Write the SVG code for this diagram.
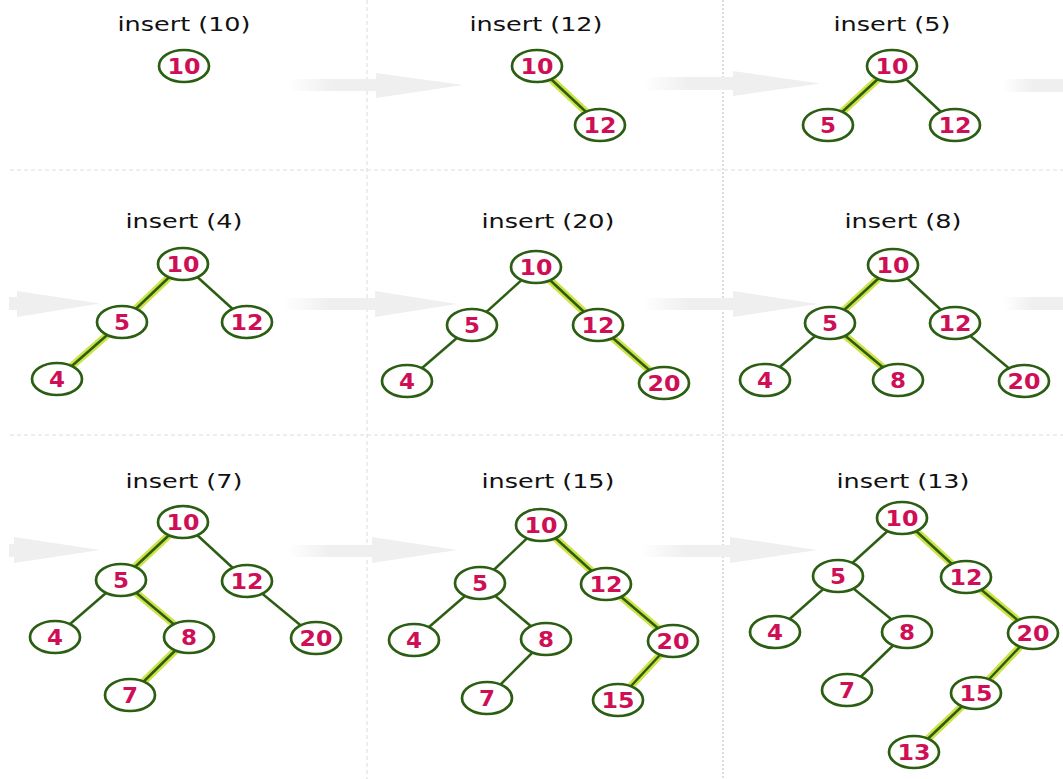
<svg xmlns="http://www.w3.org/2000/svg" width="1063" height="779" viewBox="0 0 1063 779">
<style>
.title{font-family:"DejaVu Sans","Liberation Sans",sans-serif;font-size:20px;fill:#111;text-anchor:middle}
.node ellipse{fill:#fff;stroke:#2b5e12;stroke-width:2.7}
.node text{font-family:"DejaVu Sans","Liberation Sans",sans-serif;font-weight:bold;font-size:21.5px;fill:#cf0f55;text-anchor:middle}
.e{stroke:#2b5e12;stroke-width:2.5;fill:none}
.glow{stroke:#cfe247;stroke-width:7.5;stroke-linecap:round;fill:none}
.div1{stroke:#dcdcdc;stroke-width:1;stroke-dasharray:4 3}
.div2{stroke:#d2d2d2;stroke-width:1.5;stroke-dasharray:2 2}
.head{fill:#efefef}
</style>
<defs>
<linearGradient id="fade" x1="0" y1="0" x2="1" y2="0">
<stop offset="0" stop-color="#efefef" stop-opacity="0"/>
<stop offset="0.5" stop-color="#efefef" stop-opacity="1"/>
<stop offset="1" stop-color="#efefef" stop-opacity="1"/>
</linearGradient>
</defs>
<rect width="1063" height="779" fill="#fff"/>
<g id="dividers">
<line class="div1" x1="10" y1="170" x2="1063" y2="170"/>
<line class="div1" x1="10" y1="435" x2="1063" y2="435"/>
<line class="div1" x1="367" y1="0" x2="367" y2="779"/>
<line class="div2" x1="723" y1="0" x2="723" y2="779"/>
</g>
<g id="arrows">
<rect x="287" y="79" width="90" height="12" fill="url(#fade)"/><polygon class="head" points="376,73 463,85 376,98"/>
<rect x="643" y="77" width="91" height="13" fill="url(#fade)"/><polygon class="head" points="733,71 820,83.5 733,96"/>
<rect x="1003" y="79" width="60" height="13" fill="url(#fade)"/>
<rect x="9" y="297" width="9" height="13" class="head"/><polygon class="head" points="17,291 100,303.5 17,317"/>
<rect x="283" y="298" width="93" height="12" fill="url(#fade)"/><polygon class="head" points="375,291 457,304 375,317"/>
<rect x="642" y="298" width="92" height="12" fill="url(#fade)"/><polygon class="head" points="733,291 818,304 733,317"/>
<rect x="1003" y="297" width="60" height="13" fill="url(#fade)"/>
<rect x="9" y="544" width="6" height="13" class="head"/><polygon class="head" points="14,537 100,550 14,563"/>
<rect x="287" y="545" width="86" height="12" fill="url(#fade)"/><polygon class="head" points="372,537 457,550 372,563"/>
<rect x="640" y="545" width="91" height="12" fill="url(#fade)"/><polygon class="head" points="730,537 817,550 730,563"/>
</g>
<g id="titles">
<text class="title" x="184" y="31" textLength="133" lengthAdjust="spacingAndGlyphs">insert (10)</text>
<text class="title" x="536" y="31" textLength="133" lengthAdjust="spacingAndGlyphs">insert (12)</text>
<text class="title" x="892" y="31" textLength="117" lengthAdjust="spacingAndGlyphs">insert (5)</text>
<text class="title" x="184" y="228" textLength="117" lengthAdjust="spacingAndGlyphs">insert (4)</text>
<text class="title" x="548" y="228" textLength="133" lengthAdjust="spacingAndGlyphs">insert (20)</text>
<text class="title" x="903" y="228" textLength="117" lengthAdjust="spacingAndGlyphs">insert (8)</text>
<text class="title" x="184" y="488" textLength="117" lengthAdjust="spacingAndGlyphs">insert (7)</text>
<text class="title" x="548" y="488" textLength="133" lengthAdjust="spacingAndGlyphs">insert (15)</text>
<text class="title" x="903" y="488" textLength="133" lengthAdjust="spacingAndGlyphs">insert (13)</text>
</g>
<g id="connectors">
<line class="glow" x1="537" y1="66" x2="600" y2="125"/><line class="e" x1="537" y1="66" x2="600" y2="125"/>
<line class="glow" x1="892" y1="66" x2="828" y2="125"/><line class="e" x1="892" y1="66" x2="828" y2="125"/>
<line class="e" x1="892" y1="66" x2="955" y2="125"/>
<line class="glow" x1="183" y1="264" x2="122" y2="322"/><line class="e" x1="183" y1="264" x2="122" y2="322"/>
<line class="glow" x1="122" y1="322" x2="57" y2="379"/><line class="e" x1="122" y1="322" x2="57" y2="379"/>
<line class="e" x1="183" y1="264" x2="247" y2="322"/>
<line class="glow" x1="536" y1="267" x2="598" y2="325"/><line class="e" x1="536" y1="267" x2="598" y2="325"/>
<line class="glow" x1="598" y1="325" x2="664" y2="383"/><line class="e" x1="598" y1="325" x2="664" y2="383"/>
<line class="e" x1="536" y1="267" x2="472" y2="325"/>
<line class="e" x1="472" y1="325" x2="407" y2="381"/>
<line class="glow" x1="893" y1="265" x2="830" y2="323"/><line class="e" x1="893" y1="265" x2="830" y2="323"/>
<line class="glow" x1="830" y1="323" x2="898" y2="380"/><line class="e" x1="830" y1="323" x2="898" y2="380"/>
<line class="e" x1="893" y1="265" x2="955" y2="323"/>
<line class="e" x1="830" y1="323" x2="765" y2="380"/>
<line class="e" x1="955" y1="323" x2="1024" y2="381"/>
<line class="glow" x1="183" y1="522" x2="121" y2="580"/><line class="e" x1="183" y1="522" x2="121" y2="580"/>
<line class="glow" x1="121" y1="580" x2="189" y2="637"/><line class="e" x1="121" y1="580" x2="189" y2="637"/>
<line class="glow" x1="189" y1="637" x2="130" y2="695"/><line class="e" x1="189" y1="637" x2="130" y2="695"/>
<line class="e" x1="183" y1="522" x2="247" y2="581"/>
<line class="e" x1="121" y1="580" x2="55" y2="637"/>
<line class="e" x1="247" y1="581" x2="316" y2="638"/>
<line class="glow" x1="541" y1="525" x2="606" y2="584"/><line class="e" x1="541" y1="525" x2="606" y2="584"/>
<line class="glow" x1="606" y1="584" x2="673" y2="641"/><line class="e" x1="606" y1="584" x2="673" y2="641"/>
<line class="glow" x1="673" y1="641" x2="618" y2="700"/><line class="e" x1="673" y1="641" x2="618" y2="700"/>
<line class="e" x1="541" y1="525" x2="480" y2="583"/>
<line class="e" x1="480" y1="583" x2="414" y2="640"/>
<line class="e" x1="480" y1="583" x2="546" y2="639"/>
<line class="e" x1="546" y1="639" x2="487" y2="698"/>
<line class="glow" x1="902" y1="518" x2="966" y2="577"/><line class="e" x1="902" y1="518" x2="966" y2="577"/>
<line class="glow" x1="966" y1="577" x2="1033" y2="633"/><line class="e" x1="966" y1="577" x2="1033" y2="633"/>
<line class="glow" x1="1033" y1="633" x2="976" y2="693"/><line class="e" x1="1033" y1="633" x2="976" y2="693"/>
<line class="glow" x1="976" y1="693" x2="914" y2="752"/><line class="e" x1="976" y1="693" x2="914" y2="752"/>
<line class="e" x1="902" y1="518" x2="838" y2="576"/>
<line class="e" x1="838" y1="576" x2="775" y2="632"/>
<line class="e" x1="838" y1="576" x2="907" y2="632"/>
<line class="e" x1="907" y1="632" x2="847" y2="690"/>
</g>
<g id="p1-10" class="node"><ellipse cx="184" cy="66" rx="25" ry="16"/><text x="184" y="74" textLength="33" lengthAdjust="spacingAndGlyphs">10</text></g>
<g id="p2-10" class="node"><ellipse cx="537" cy="66" rx="25" ry="16"/><text x="537" y="74" textLength="33" lengthAdjust="spacingAndGlyphs">10</text></g>
<g id="p2-12" class="node"><ellipse cx="600" cy="125" rx="25" ry="16"/><text x="600" y="133" textLength="33" lengthAdjust="spacingAndGlyphs">12</text></g>
<g id="p3-10" class="node"><ellipse cx="892" cy="66" rx="25" ry="16"/><text x="892" y="74" textLength="33" lengthAdjust="spacingAndGlyphs">10</text></g>
<g id="p3-5" class="node"><ellipse cx="828" cy="125" rx="25" ry="16"/><text x="828" y="133" textLength="16" lengthAdjust="spacingAndGlyphs">5</text></g>
<g id="p3-12" class="node"><ellipse cx="955" cy="125" rx="25" ry="16"/><text x="955" y="133" textLength="33" lengthAdjust="spacingAndGlyphs">12</text></g>
<g id="p4-10" class="node"><ellipse cx="183" cy="264" rx="25" ry="16"/><text x="183" y="272" textLength="33" lengthAdjust="spacingAndGlyphs">10</text></g>
<g id="p4-5" class="node"><ellipse cx="122" cy="322" rx="25" ry="16"/><text x="122" y="330" textLength="16" lengthAdjust="spacingAndGlyphs">5</text></g>
<g id="p4-12" class="node"><ellipse cx="247" cy="322" rx="25" ry="16"/><text x="247" y="330" textLength="33" lengthAdjust="spacingAndGlyphs">12</text></g>
<g id="p4-4" class="node"><ellipse cx="57" cy="379" rx="25" ry="16"/><text x="57" y="387" textLength="16" lengthAdjust="spacingAndGlyphs">4</text></g>
<g id="p5-10" class="node"><ellipse cx="536" cy="267" rx="25" ry="16"/><text x="536" y="275" textLength="33" lengthAdjust="spacingAndGlyphs">10</text></g>
<g id="p5-5" class="node"><ellipse cx="472" cy="325" rx="25" ry="16"/><text x="472" y="333" textLength="16" lengthAdjust="spacingAndGlyphs">5</text></g>
<g id="p5-12" class="node"><ellipse cx="598" cy="325" rx="25" ry="16"/><text x="598" y="333" textLength="33" lengthAdjust="spacingAndGlyphs">12</text></g>
<g id="p5-4" class="node"><ellipse cx="407" cy="381" rx="25" ry="16"/><text x="407" y="389" textLength="16" lengthAdjust="spacingAndGlyphs">4</text></g>
<g id="p5-20" class="node"><ellipse cx="664" cy="383" rx="25" ry="16"/><text x="664" y="391" textLength="33" lengthAdjust="spacingAndGlyphs">20</text></g>
<g id="p6-10" class="node"><ellipse cx="893" cy="265" rx="25" ry="16"/><text x="893" y="273" textLength="33" lengthAdjust="spacingAndGlyphs">10</text></g>
<g id="p6-5" class="node"><ellipse cx="830" cy="323" rx="25" ry="16"/><text x="830" y="331" textLength="16" lengthAdjust="spacingAndGlyphs">5</text></g>
<g id="p6-12" class="node"><ellipse cx="955" cy="323" rx="25" ry="16"/><text x="955" y="331" textLength="33" lengthAdjust="spacingAndGlyphs">12</text></g>
<g id="p6-4" class="node"><ellipse cx="765" cy="380" rx="25" ry="16"/><text x="765" y="388" textLength="16" lengthAdjust="spacingAndGlyphs">4</text></g>
<g id="p6-8" class="node"><ellipse cx="898" cy="380" rx="25" ry="16"/><text x="898" y="388" textLength="16" lengthAdjust="spacingAndGlyphs">8</text></g>
<g id="p6-20" class="node"><ellipse cx="1024" cy="381" rx="25" ry="16"/><text x="1024" y="389" textLength="33" lengthAdjust="spacingAndGlyphs">20</text></g>
<g id="p7-10" class="node"><ellipse cx="183" cy="522" rx="25" ry="16"/><text x="183" y="530" textLength="33" lengthAdjust="spacingAndGlyphs">10</text></g>
<g id="p7-5" class="node"><ellipse cx="121" cy="580" rx="25" ry="16"/><text x="121" y="588" textLength="16" lengthAdjust="spacingAndGlyphs">5</text></g>
<g id="p7-12" class="node"><ellipse cx="247" cy="581" rx="25" ry="16"/><text x="247" y="589" textLength="33" lengthAdjust="spacingAndGlyphs">12</text></g>
<g id="p7-4" class="node"><ellipse cx="55" cy="637" rx="25" ry="16"/><text x="55" y="645" textLength="16" lengthAdjust="spacingAndGlyphs">4</text></g>
<g id="p7-8" class="node"><ellipse cx="189" cy="637" rx="25" ry="16"/><text x="189" y="645" textLength="16" lengthAdjust="spacingAndGlyphs">8</text></g>
<g id="p7-20" class="node"><ellipse cx="316" cy="638" rx="25" ry="16"/><text x="316" y="646" textLength="33" lengthAdjust="spacingAndGlyphs">20</text></g>
<g id="p7-7" class="node"><ellipse cx="130" cy="695" rx="25" ry="16"/><text x="130" y="703" textLength="16" lengthAdjust="spacingAndGlyphs">7</text></g>
<g id="p8-10" class="node"><ellipse cx="541" cy="525" rx="25" ry="16"/><text x="541" y="533" textLength="33" lengthAdjust="spacingAndGlyphs">10</text></g>
<g id="p8-5" class="node"><ellipse cx="480" cy="583" rx="25" ry="16"/><text x="480" y="591" textLength="16" lengthAdjust="spacingAndGlyphs">5</text></g>
<g id="p8-12" class="node"><ellipse cx="606" cy="584" rx="25" ry="16"/><text x="606" y="592" textLength="33" lengthAdjust="spacingAndGlyphs">12</text></g>
<g id="p8-4" class="node"><ellipse cx="414" cy="640" rx="25" ry="16"/><text x="414" y="648" textLength="16" lengthAdjust="spacingAndGlyphs">4</text></g>
<g id="p8-8" class="node"><ellipse cx="546" cy="639" rx="25" ry="16"/><text x="546" y="647" textLength="16" lengthAdjust="spacingAndGlyphs">8</text></g>
<g id="p8-20" class="node"><ellipse cx="673" cy="641" rx="25" ry="16"/><text x="673" y="649" textLength="33" lengthAdjust="spacingAndGlyphs">20</text></g>
<g id="p8-7" class="node"><ellipse cx="487" cy="698" rx="25" ry="16"/><text x="487" y="706" textLength="16" lengthAdjust="spacingAndGlyphs">7</text></g>
<g id="p8-15" class="node"><ellipse cx="618" cy="700" rx="25" ry="16"/><text x="618" y="708" textLength="33" lengthAdjust="spacingAndGlyphs">15</text></g>
<g id="p9-10" class="node"><ellipse cx="902" cy="518" rx="25" ry="16"/><text x="902" y="526" textLength="33" lengthAdjust="spacingAndGlyphs">10</text></g>
<g id="p9-5" class="node"><ellipse cx="838" cy="576" rx="25" ry="16"/><text x="838" y="584" textLength="16" lengthAdjust="spacingAndGlyphs">5</text></g>
<g id="p9-12" class="node"><ellipse cx="966" cy="577" rx="25" ry="16"/><text x="966" y="585" textLength="33" lengthAdjust="spacingAndGlyphs">12</text></g>
<g id="p9-4" class="node"><ellipse cx="775" cy="632" rx="25" ry="16"/><text x="775" y="640" textLength="16" lengthAdjust="spacingAndGlyphs">4</text></g>
<g id="p9-8" class="node"><ellipse cx="907" cy="632" rx="25" ry="16"/><text x="907" y="640" textLength="16" lengthAdjust="spacingAndGlyphs">8</text></g>
<g id="p9-20" class="node"><ellipse cx="1033" cy="633" rx="25" ry="16"/><text x="1033" y="641" textLength="33" lengthAdjust="spacingAndGlyphs">20</text></g>
<g id="p9-7" class="node"><ellipse cx="847" cy="690" rx="25" ry="16"/><text x="847" y="698" textLength="16" lengthAdjust="spacingAndGlyphs">7</text></g>
<g id="p9-15" class="node"><ellipse cx="976" cy="693" rx="25" ry="16"/><text x="976" y="701" textLength="33" lengthAdjust="spacingAndGlyphs">15</text></g>
<g id="p9-13" class="node"><ellipse cx="914" cy="752" rx="25" ry="16"/><text x="914" y="760" textLength="33" lengthAdjust="spacingAndGlyphs">13</text></g>
</svg>
